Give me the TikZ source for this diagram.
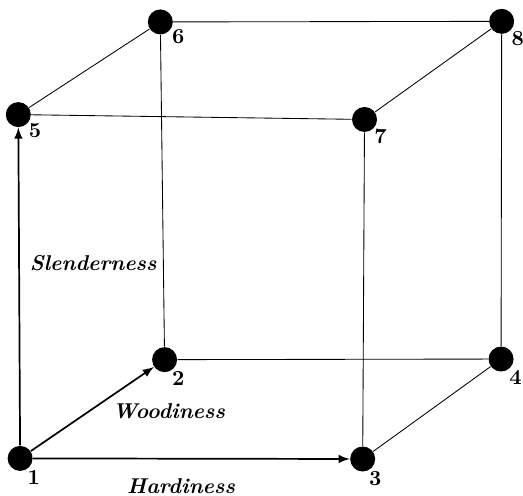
\documentclass[tikz,border=0pt]{standalone}
\usepackage{amsmath}
\usepackage{amssymb}
\usetikzlibrary{arrows}

\begin{document}
\begin{tikzpicture}[
	vertex/.style={circle, fill=black, inner sep=0pt, minimum size=0.41cm},
	num/.style={inner sep=0.5pt, label distance=-0.5pt, font=\bfseries},
	axis/.style={line width=0.8pt, -latex},
	edge/.style={line width=0.4pt},
	axislabel/.style={font=\bfseries\itshape}]
				\useasboundingbox (0,0) rectangle (8.58, 8.13);
				\node[vertex, label={[num]-60:1}] (V1)at(0.33, 0.61) {};
				\node[vertex, label={[num]-60:2}] (V2)at(2.70, 2.23) {};
				\node[vertex, label={[num]-65:3}] (V3)at(5.95, 0.60) {};
				\node[vertex, label={[num]-55:4}] (V4)at(8.22, 2.24) {};
				\node[vertex, label={[num]-40:5}] (V5)at(0.30, 6.25) {};
				\node[vertex, label={[num]-30:6}] (V6)at(2.63, 7.77) {};
				\node[vertex, label={[num]-45:7}] (V7)at(5.98, 6.17) {};
				\node[vertex, label={[num]-45:8}] (V8)at(8.23, 7.78) {};
				\node[axislabel] (S)at(1.53, 3.82) {Slenderness};
				\node[axislabel] (W)at(2.77, 1.39) {Woodiness};
				\node[axislabel] (H)at(2.97, 0.15) {Hardiness};
				\draw[axis] (V1) -- (V5);
				\draw[axis] (V1) -- (V2);
				\draw[axis] (V1) -- (V3);
				\draw[edge] (V5) -- (V7);
				\draw[edge] (V5) -- (V6);
				\draw[edge] (V6) -- (V8);
				\draw[edge] (V7) -- (V8);
				\draw[edge] (V6) -- (V2);
				\draw[edge] (V2) -- (V4);
				\draw[edge] (V8) -- (V4);
				\draw[edge] (V7) -- (V3);
				\draw[edge] (V3) -- (V4);
			\end{tikzpicture}
\end{document}
